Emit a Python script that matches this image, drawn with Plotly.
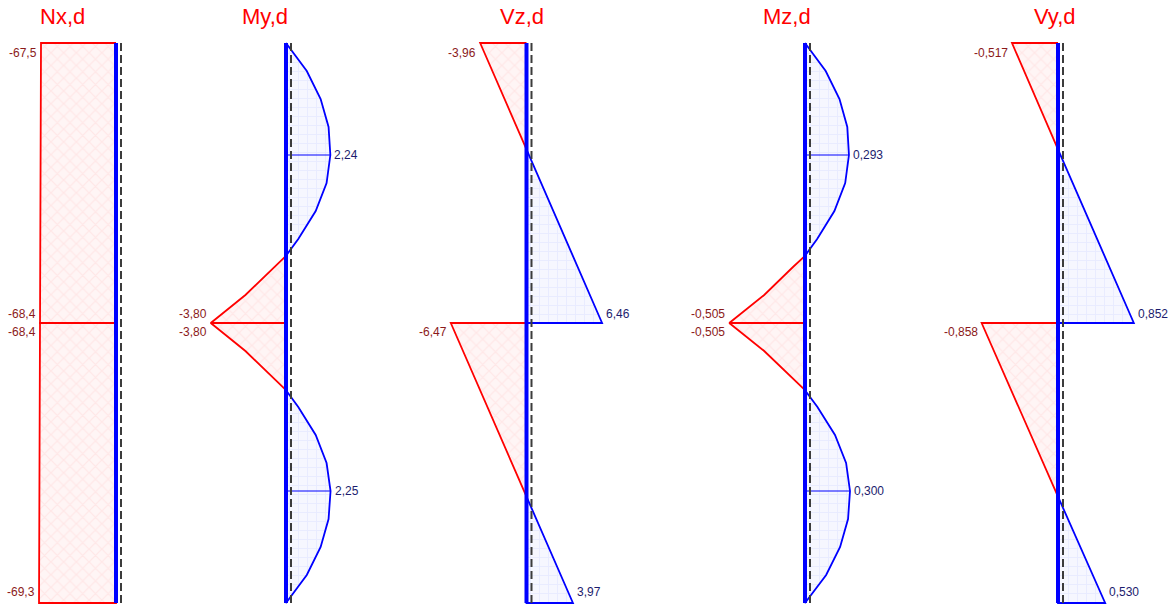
import plotly.graph_objects as go

# internal force diagrams of a two-span column, station 0 = top, 1 = bottom
# values, comma decimals kept for the labels

# Nx,d
NX_S_TOP = [0.0, 0.5]
NX_V_TOP = [-67.5, -68.4]
NX_S_BOT = [0.5, 1.0]
NX_V_BOT = [-68.4, -69.3]
NX_LBL_S = [0.0, 0.5, 0.5, 1.0]
NX_LBL_V = [-67.5, -68.4, -68.4, -69.3]
NX_LBL_T = ["-67,5", "-68,4", "-68,4", "-69,3"]

# My,d
MY_S_TOP = [0.0, 0.05, 0.10, 0.15, 0.20, 0.25, 0.30, 0.35, 0.38, 0.40, 0.45, 0.50]
MY_V_TOP = [0.0, 1.05, 1.75, 2.15, 2.24, 2.05, 1.50, 0.62, 0.0, -0.60, -2.05, -3.80]
MY_S_BOT = [0.50, 0.55, 0.60, 0.62, 0.65, 0.70, 0.75, 0.80, 0.85, 0.90, 0.95, 1.0]
MY_V_BOT = [-3.80, -2.05, -0.60, 0.0, 0.62, 1.50, 2.05, 2.25, 2.15, 1.75, 1.05, 0.0]
MY_LBL_S = [0.2, 0.5, 0.5, 0.8]
MY_LBL_V = [2.24, -3.80, -3.80, 2.25]
MY_LBL_T = ["2,24", "-3,80", "-3,80", "2,25"]

# Vz,d
VZ_S_TOP = [0.0, 0.19, 0.5]
VZ_V_TOP = [-3.96, 0.0, 6.46]
VZ_S_BOT = [0.5, 0.81, 1.0]
VZ_V_BOT = [-6.47, 0.0, 3.97]
VZ_LBL_S = [0.0, 0.5, 0.5, 1.0]
VZ_LBL_V = [-3.96, 6.46, -6.47, 3.97]
VZ_LBL_T = ["-3,96", "6,46", "-6,47", "3,97"]

# Mz,d
MZ_S_TOP = [0.0, 0.05, 0.10, 0.15, 0.20, 0.25, 0.30, 0.35, 0.38, 0.40, 0.45, 0.50]
MZ_V_TOP = [0.0, 0.138, 0.230, 0.282, 0.293, 0.268, 0.196, 0.081, 0.0, -0.080, -0.272, -0.505]
MZ_S_BOT = [0.50, 0.55, 0.60, 0.62, 0.65, 0.70, 0.75, 0.80, 0.85, 0.90, 0.95, 1.0]
MZ_V_BOT = [-0.505, -0.272, -0.080, 0.0, 0.083, 0.200, 0.274, 0.300, 0.287, 0.234, 0.141, 0.0]
MZ_LBL_S = [0.2, 0.5, 0.5, 0.8]
MZ_LBL_V = [0.293, -0.505, -0.505, 0.300]
MZ_LBL_T = ["0,293", "-0,505", "-0,505", "0,300"]

# Vy,d
VY_S_TOP = [0.0, 0.19, 0.5]
VY_V_TOP = [-0.517, 0.0, 0.852]
VY_S_BOT = [0.5, 0.81, 1.0]
VY_V_BOT = [-0.858, 0.0, 0.530]
VY_LBL_S = [0.0, 0.5, 0.5, 1.0]
VY_LBL_V = [-0.517, 0.852, -0.858, 0.530]
VY_LBL_T = ["-0,517", "0,852", "-0,858", "0,530"]

TITLES = ["Nx,d", "My,d", "Vz,d", "Mz,d", "Vy,d"]

W, H = 1176, 606
RED = "#ff0000"
BLUE = "#0000ff"
NEG_TXT = "#8b1a1a"
POS_TXT = "#1c1c6e"
FONT = "Liberation Sans, Arial, sans-serif"

# layout per panel: pixel of the member axis, px per unit, panel edges (may overlap), title centre
panels = [
    dict(segs=[(NX_S_TOP, NX_V_TOP), (NX_S_BOT, NX_V_BOT)], lbl=(NX_LBL_S, NX_LBL_V, NX_LBL_T),
         col=116, k=1.111, left=0, right=240, tx=62),
    dict(segs=[(MY_S_TOP, MY_V_TOP), (MY_S_BOT, MY_V_BOT)], lbl=(MY_LBL_S, MY_LBL_V, MY_LBL_T),
         col=286, k=19.8, left=150, right=470, tx=265),
    dict(segs=[(VZ_S_TOP, VZ_V_TOP), (VZ_S_BOT, VZ_V_BOT)], lbl=(VZ_LBL_S, VZ_LBL_V, VZ_LBL_T),
         col=526.5, k=11.7, left=400, right=700, tx=522),
    dict(segs=[(MZ_S_TOP, MZ_V_TOP), (MZ_S_BOT, MZ_V_BOT)], lbl=(MZ_LBL_S, MZ_LBL_V, MZ_LBL_T),
         col=805, k=150.0, left=680, right=940, tx=787),
    dict(segs=[(VY_S_TOP, VY_V_TOP), (VY_S_BOT, VY_V_BOT)], lbl=(VY_LBL_S, VY_LBL_V, VY_LBL_T),
         col=1058, k=89.0, left=920, right=1176, tx=1055),
]


def sign_runs(s, v):
    # split a diagram into runs of equal sign, zero points shared by both sides
    out, cur, sign = [], [], 0
    for si, vi in zip(s, v):
        sg = (vi > 0) - (vi < 0)
        if sg == 0:
            cur.append((si, vi))
            if sign != 0:
                out.append((sign, cur))
                cur, sign = [(si, vi)], 0
            continue
        if sign == 0 or sg == sign:
            sign = sg
            cur.append((si, vi))
        else:
            out.append((sign, cur))
            cur, sign = [(si, vi)], sg
    if cur and sign != 0:
        out.append((sign, cur))
    return out


fig = go.Figure()
layout_axes = {}
annotations = []
shapes = []

for i, p in enumerate(panels):
    n = "" if i == 0 else str(i + 1)
    xa = "x" + n
    lo = (p["left"] - p["col"]) / p["k"]
    hi = (p["right"] - p["col"]) / p["k"]
    layout_axes["xaxis" + n] = dict(domain=[p["left"] / W, p["right"] / W], range=[lo, hi],
                                    visible=False, fixedrange=True, anchor="y")

    for s, v in p["segs"]:
        for sg, pts in sign_runs(s, v):
            ss = [q[0] for q in pts]
            vv = [q[1] for q in pts]
            xs = [0] + vv + [0, 0]
            ys = [ss[0]] + ss + [ss[-1], ss[0]]
            if sg < 0:
                col, fill = RED, dict(shape="x", fgcolor="rgba(255,90,90,0.18)",
                                      bgcolor="rgba(255,0,0,0.04)", size=9, solidity=0.25)
            else:
                col, fill = BLUE, dict(shape="+", fgcolor="rgba(90,110,255,0.18)",
                                       bgcolor="rgba(40,70,255,0.045)", size=9, solidity=0.2)
            fig.add_trace(go.Scatter(x=xs, y=ys, xaxis=xa, yaxis="y", mode="lines",
                                     line=dict(color=col, width=1.8), fill="toself",
                                     fillcolor="rgba(0,0,0,0)", fillpattern=fill,
                                     hoverinfo="skip", showlegend=False))

    ls, lv, lt = p["lbl"]
    seen_mid = False
    for s, v, t in zip(ls, lv, lt):
        neg = v < 0
        if 0 < s < 1 and s != 0.5:
            # ordinate at the labelled station
            fig.add_trace(go.Scatter(x=[0, v], y=[s, s], xaxis=xa, yaxis="y", mode="lines",
                                     line=dict(color=BLUE if not neg else RED, width=1),
                                     hoverinfo="skip", showlegend=False))
            ya, ysh = "middle", 0
        elif s == 0:
            ya, ysh = "top", -1
        elif s == 1:
            ya, ysh = "bottom", 2
        else:
            ya, ysh = ("bottom", 0) if not seen_mid else ("top", 0)
            seen_mid = True
        annotations.append(dict(x=v, y=s, xref=xa, yref="y", text=t, showarrow=False,
                                xanchor="right" if neg else "left", xshift=-2 if neg else 2,
                                yanchor=ya, yshift=ysh,
                                font=dict(family=FONT, size=12, color=NEG_TXT if neg else POS_TXT)))

    # member axis and dashed reference line
    fig.add_trace(go.Scatter(x=[0, 0], y=[0, 1], xaxis=xa, yaxis="y", mode="lines",
                             line=dict(color=BLUE, width=4), hoverinfo="skip", showlegend=False))
    shapes.append(dict(type="line", xref=xa, yref="y", xsizemode="pixel", xanchor=0,
                       x0=5, x1=5, y0=0, y1=1, layer="above",
                       line=dict(color="#3c3c3c", width=2, dash="8px,4px")))

    annotations.append(dict(x=p["tx"] / W, y=1, xref="paper", yref="paper", yshift=24,
                            text=TITLES[i], showarrow=False, xanchor="center", yanchor="middle",
                            font=dict(family=FONT, size=22, color=RED)))

# y: station along the member, top at pixel 43, bottom at pixel 603
span = 1 / (560 / 566)
ymin = -3 * span / 566
fig.update_layout(
    width=W, height=H,
    margin=dict(l=0, r=0, t=40, b=0),
    paper_bgcolor="white", plot_bgcolor="white",
    yaxis=dict(range=[ymin + span, ymin], visible=False, fixedrange=True),
    annotations=annotations, shapes=shapes,
    **layout_axes
)

fig.write_html("out.html", config={"displayModeBar": False},
               post_script="document.body.style.margin='0';document.body.style.overflow='hidden';")
